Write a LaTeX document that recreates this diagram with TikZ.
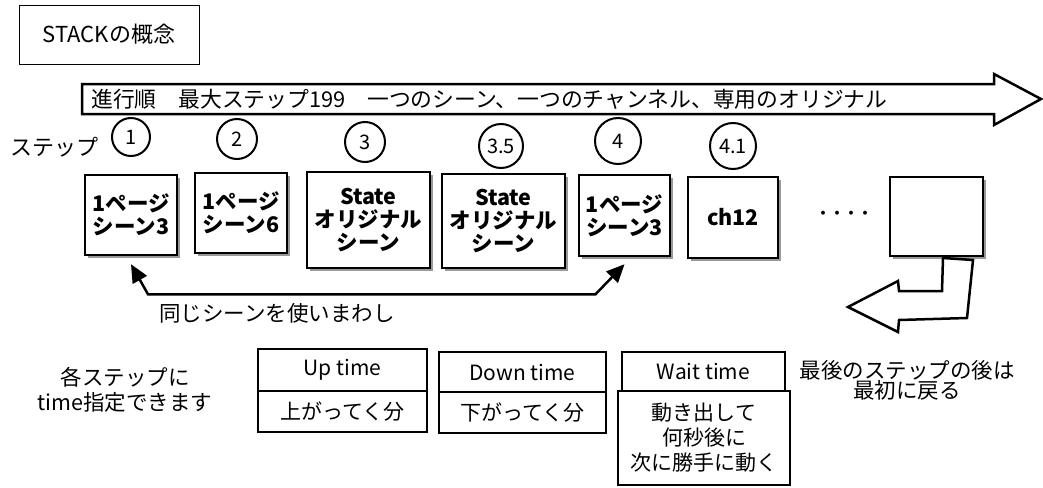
\documentclass[tikz,border=0pt]{standalone}
\usepackage{fontspec}
\setmainfont{Noto Sans CJK JP}
\usepackage{tikz}
\usetikzlibrary{positioning,shapes,shadows,arrows.meta}

\tikzset{
    scenebox/.style={rectangle, draw, line width=2.5pt, fill=white, align=center, inner sep=0pt,
        font=\bfseries\fontsize{21.5}{23}\selectfont,
        drop shadow={shadow xshift=3pt, shadow yshift=-3pt, fill=black!40, opacity=1}},
    stepnum/.style={circle, draw, line width=2pt, inner sep=0pt, font=\fontsize{20}{22}\selectfont},
    timebox/.style={rectangle, draw, line width=2.5pt, fill=white, align=center, inner sep=0pt,
        font=\fontsize{21}{25}\selectfont},
    note/.style={align=center, inner sep=0pt, font=\fontsize{21.5}{25}\selectfont},
    bigarrow/.style={draw, line width=2.5pt, fill=white, line join=miter},
}

\begin{document}
\begin{tikzpicture}[x=1pt, y=-1pt]
    \path[use as bounding box] (0,0) rectangle (1043,487);

    \node[rectangle, draw, line width=0.8pt, minimum width=180pt, minimum height=59pt,
        font=\fontsize{22}{24}\selectfont] (title) at (109,34.5) {STACKの概念};

    \draw[bigarrow] (82,84) -- (994,84) -- (994,74) -- (1041,99) -- (994,125) -- (994,114) -- (82,114) -- cycle;
    \node[anchor=west, inner sep=0pt, font=\fontsize{21.8}{24}\selectfont] (order) at (91,99)
        {進行順　最大ステップ199　一つのシーン、一つのチャンネル、専用のオリジナル};

    \node[note, font=\fontsize{22}{24}\selectfont] (steplabel) at (54,147) {ステップ};
    \node[stepnum, minimum size=38pt] (n1) at (131,137) {1};
    \node[stepnum, minimum size=40pt] (n2) at (237,139) {2};
    \node[stepnum, minimum size=40pt] (n3) at (365,142) {3};
    \node[stepnum, minimum size=44pt] (n35) at (501,146) {3.5};
    \node[stepnum, minimum size=46pt] (n4) at (618,141) {4};
    \node[stepnum, minimum size=46pt] (n41) at (733,146) {4.1};

    \node[scenebox, minimum width=92pt, minimum height=80pt] (s1) at (131,215) {1ページ\\シーン3};
    \node[scenebox, minimum width=92pt, minimum height=80pt] (s2) at (241,213) {1ページ\\シーン6};
    \node[scenebox, minimum width=123pt, minimum height=96pt] (s3) at (368.5,220) {State\\オリジナル\\シーン};
    \node[scenebox, minimum width=123pt, minimum height=94pt] (s35) at (503.5,221) {State\\オリジナル\\シーン};
    \node[scenebox, minimum width=91pt, minimum height=81pt] (s4) at (624.5,215.5) {1ページ\\シーン3};
    \node[scenebox, minimum width=90pt, minimum height=81pt] (s41) at (733,217.5) {ch12};
    \node[font=\bfseries\fontsize{14}{15}\selectfont, inner sep=0pt] (more) at (844,215) {・・・・};
    \node[scenebox, minimum width=93pt, minimum height=79pt] (slast) at (936.5,216.5) {};

    \draw[line width=2.5pt, {Triangle[length=18pt,width=16pt]}-{Triangle[length=18pt,width=16pt]}]
        ([yshift=-8pt]s1.south) -- ++(17,30) -- ([xshift=-29pt,yshift=-37pt]s4.south) -- ([yshift=-7pt]s4.south);
    \node[note] (reuse) at (277,313) {同じシーンを使いまわし};

    \draw[bigarrow] (943,258) -- (942,291) -- (899,291) -- (898,281) -- (848,307) -- (898,332)
        -- (899,320) -- (967,318) -- (973,260) -- cycle;
    \node[note, font=\fontsize{21.5}{20}\selectfont] (back) at (907,380) {最後のステップの後は\\最初に戻る};

    \node[note] (timenote) at (125,390) {各ステップに\\time指定できます};

    \node[timebox, minimum width=169pt, minimum height=42pt] (up) at (342.5,370) {Up time};
    \node[timebox, minimum width=169pt, minimum height=41pt] (upval) at (342.5,411.5) {上がってく分};
    \node[timebox, minimum width=167pt, minimum height=40pt] (down) at (522.5,372) {Down time};
    \node[timebox, minimum width=167pt, minimum height=41pt] (downval) at (522.5,412.5) {下がってく分};
    \node[timebox, minimum width=163pt, minimum height=39pt] (wait) at (703.5,371.5) {Wait time};
    \node[timebox, minimum width=172pt, minimum height=94pt] (waitval) at (704,438) {動き出して\\何秒後に\\次に勝手に動く};
\end{tikzpicture}
\end{document}
